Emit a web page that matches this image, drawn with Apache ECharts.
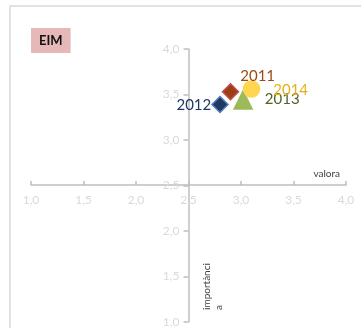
<!DOCTYPE html>
<html>
<head>
<meta charset="utf-8">
<script src="https://cdn.jsdelivr.net/npm/echarts@6/dist/echarts.min.js"></script>
<style>
  html, body { margin: 0; padding: 0; background: #fff; }
  #chart { width: 361px; height: 328px; }
</style>
</head>
<body>
<div id="chart"></div>
<script>
// anys i valors (valoració, importància)
var years = ['2011', '2012', '2013', '2014']
var valoracio = [2.90, 2.80, 3.02, 3.10]
var importancia = [3.53, 3.39, 3.44, 3.56]
var xTicks = [1.0, 4.0, 0.5]  // min, max, interval
var yTicks = [1.0, 4.0, 0.5]

var styles = [
  { symbol: 'diamond', size: 16, fill: '#9C3F17', border: '#C0504D', text: '#9C4A14', pos: 'right', offset: [-4, -16] },
  { symbol: 'diamond', size: 16, fill: '#1F3864', border: '#4F81BD', text: '#1F3864', pos: 'left', offset: [5, 1] },
  { symbol: 'triangle', size: 18, fill: '#9BBB59', border: '#9BBB59', text: '#4F6228', pos: 'right', offset: [7, -1] },
  { symbol: 'circle', size: 16, fill: '#FFD551', border: '#FFD551', text: '#E6B116', pos: 'right', offset: [8, 1] }
]

function fmt (v) { return v.toFixed(1).replace('.', ',') }

var series = years.map(function (y, i) {
  var s = styles[i]
  return {
    name: y,
    type: 'scatter',
    symbol: s.symbol,
    symbolSize: s.size,
    data: [[valoracio[i], importancia[i]]],
    itemStyle: { color: s.fill, borderColor: s.border, borderWidth: 1.5, opacity: 1 },
    label: {
      show: true,
      formatter: y,
      position: s.pos,
      offset: s.offset,
      color: s.text,
      fontFamily: 'Lato',
      fontSize: 15
    },
    emphasis: { disabled: true }
  }
})

var chart = echarts.init(document.getElementById('chart'))
chart.setOption({
  animation: false,
  title: {
    text: 'EIM',
    left: 31,
    top: 28,
    backgroundColor: '#E6B9B8',
    padding: [6, 8],
    textStyle: { fontFamily: 'Lato', fontWeight: 'bold', fontSize: 13, color: '#111' }
  },
  grid: { left: 31, right: 15, top: 49, bottom: 5 },
  xAxis: {
    type: 'value',
    min: xTicks[0], max: xTicks[1], interval: xTicks[2],
    offset: -137,
    name: 'valora',
    nameLocation: 'end',
    nameGap: -6,
    nameTextStyle: { align: 'right', verticalAlign: 'bottom', padding: [0, 0, 6, 0], color: '#404040', fontFamily: 'Lato', fontSize: 10 },
    axisLine: { lineStyle: { color: '#BFBFBF', width: 1.5 } },
    axisTick: { inside: true, length: 4, lineStyle: { color: '#BFBFBF', width: 1.5 } },
    axisLabel: { formatter: fmt, color: '#D9D9D9', fontFamily: 'Lato', fontSize: 12, margin: 9 },
    splitLine: { show: false }
  },
  yAxis: {
    type: 'value',
    min: yTicks[0], max: yTicks[1], interval: yTicks[2],
    offset: -157.5,
    axisLine: { show: true, lineStyle: { color: '#BFBFBF', width: 1.5 } },
    axisTick: { show: true, length: 5, lineStyle: { color: '#BFBFBF', width: 1.5 } },
    axisLabel: { formatter: fmt, color: '#D9D9D9', fontFamily: 'Lato', fontSize: 12, margin: 9 },
    splitLine: { show: false }
  },
  graphic: [
    {
      type: 'rect',
      shape: { x: 10, y: 6, width: 500, height: 500 },
      style: { fill: 'none', stroke: '#D9D9D9', lineWidth: 1.5 },
      silent: true,
      z: -10
    },
    {
      type: 'text',
      x: 201,
      y: 310,
      rotation: Math.PI / 2,
      style: { text: 'importànci\na', fill: '#404040', font: '10px Lato', lineHeight: 12, align: 'left', verticalAlign: 'top' },
      silent: true
    }
  ],
  series: series
})
</script>
</body>
</html>
